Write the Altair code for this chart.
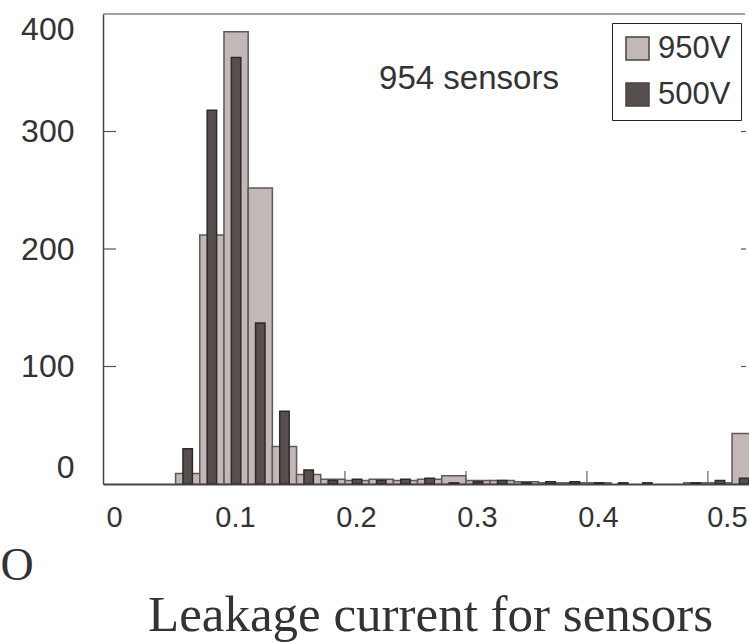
import altair as alt
import pandas as pd

# ---- data ----
bin_start = [0.06, 0.08, 0.10, 0.12, 0.14, 0.16, 0.18, 0.20, 0.22, 0.24, 0.26, 0.28,
             0.30, 0.32, 0.34, 0.36, 0.38, 0.40, 0.42, 0.44, 0.46, 0.48, 0.50, 0.52]
bin_width = 0.02
counts_950 = [9, 212, 385, 252, 32, 8, 4, 3, 4, 3, 4, 7,
              3, 3, 2, 1, 1, 1, 0, 0, 0, 1, 1, 43]
counts_500 = [30, 318, 363, 137, 62, 12, 3, 4, 3, 4, 5, 1,
              2, 3, 1, 2, 2, 1, 1, 1, 0, 1, 3, 5]
series_names = ["950V", "500V"]
x_ticks = [0, 0.1, 0.2, 0.3, 0.4, 0.5]
y_ticks = [0, 100, 200, 300, 400]
inner_y_ticks = [100, 200, 300]
inner_x_ticks = [0.1, 0.2, 0.3, 0.4, 0.5]
note_text = ["954 sensors"]
x_title = "Leakage current for sensors"
stray_text = ["O"]

LIGHT = "#c2b9b7"
DARK = "#574f4d"
TEXT = "#333333"
SANS = "Liberation Sans"
SERIF = "Liberation Serif"

rows = []
for s, vals in zip(series_names, [counts_950, counts_500]):
    for b, v in zip(bin_start, vals):
        if v > 0:
            rows.append({"series": s, "start": b, "end": b + bin_width, "count": v})
df = pd.DataFrame(rows)

xscale = alt.Scale(domain=[0, 0.534], nice=False, zero=False)
yscale = alt.Scale(domain=[0, 400], nice=False)
cscale = alt.Scale(domain=series_names, range=[LIGHT, DARK])

x_axis = alt.Axis(
    values=x_ticks, ticks=False, grid=False, domainColor="#444444", domainWidth=2,
    labelFont=SANS, labelFontSize=29, labelColor=TEXT, labelPadding=19,
    labelFlush=False, labelOffset=alt.ExprRef("datum.value > 0.45 ? 19 : 11"),
    labelExpr="datum.value == 0 ? '0' : format(datum.value, '.1f')",
    title=x_title, titleFont=SERIF, titleFontSize=51, titleFontWeight="normal",
    titleColor=TEXT, titleX=327, titleY=146, titleBaseline="alphabetic",
    titleAlign="center")
y_axis = alt.Axis(
    values=y_ticks, ticks=False, grid=False, domainColor="#444444", domainWidth=1.5,
    labelFont=SANS, labelFontSize=32, labelColor=TEXT, labelPadding=29,
    labelFlush=True, title=None)

legend = alt.Legend(
    title=None, orient="none", legendX=509, legendY=9,
    symbolType="square", symbolSize=529, symbolStrokeColor="#4a4341",
    symbolStrokeWidth=1.5, labelFont=SANS, labelFontSize=31, labelColor=TEXT,
    labelOffset=5, strokeColor="#222222", fillColor="white", padding=10,
    rowPadding=14,
)

base = alt.Chart(df)

light = base.transform_filter(alt.datum.series == "950V").mark_bar(
    clip=True, stroke="#5f5856", strokeWidth=1.5
).encode(
    x=alt.X("start:Q", scale=xscale, axis=x_axis),
    x2="end:Q",
    y=alt.Y("count:Q", scale=yscale, axis=y_axis),
    y2=alt.datum(0),
    color=alt.Color("series:N", scale=cscale, legend=legend),
)

dark = base.transform_filter(alt.datum.series == "500V").transform_calculate(
    lo="datum.start + 0.0061", hi="datum.start + 0.0139"
).mark_bar(clip=True, stroke="#2f2a29", strokeWidth=1.5).encode(
    x=alt.X("lo:Q", scale=xscale, axis=x_axis),
    x2="hi:Q",
    y=alt.Y("count:Q", scale=yscale, axis=y_axis),
    y2=alt.datum(0),
    color=alt.Color("series:N", scale=cscale, legend=legend),
)

ytick_df = pd.DataFrame({"v": inner_y_ticks})
left_ticks = alt.Chart(ytick_df).mark_rule(color="#555555", strokeWidth=1.2).encode(
    y=alt.Y("v:Q", scale=yscale, axis=y_axis), x=alt.value(0), x2=alt.value(13))
right_ticks = alt.Chart(ytick_df).mark_rule(color="#555555", strokeWidth=1.2).encode(
    y=alt.Y("v:Q", scale=yscale, axis=y_axis), x=alt.value(638), x2=alt.value(643))

xtick_df = pd.DataFrame({"v": inner_x_ticks})
bottom_ticks = alt.Chart(xtick_df).mark_rule(color="#666666", strokeWidth=1.2).encode(
    x=alt.X("v:Q", scale=xscale, axis=x_axis), y=alt.value(470), y2=alt.value(457))

top_line = alt.Chart(pd.DataFrame({"k": [0]})).mark_rule(
    color="#a8a09e", strokeWidth=2).encode(
    x=alt.value(0), x2=alt.value(642), y=alt.value(0))

note = alt.Chart(pd.DataFrame({"t": note_text})).mark_text(
    font=SANS, fontSize=33, color=TEXT, align="center", baseline="middle").encode(
    text="t:N", x=alt.value(366), y=alt.value(65))

stray = alt.Chart(pd.DataFrame({"t": stray_text})).mark_text(
    font=SERIF, fontSize=46, color=TEXT, align="center", baseline="alphabetic").encode(
    text="t:N", x=alt.value(-86), y=alt.value(566))

chart = alt.layer(
    light, dark, left_ticks, right_ticks, bottom_ticks, top_line, note, stray
).properties(
    width=646, height=470,
    autosize=alt.AutoSizeParams(type="none"),
    padding={"left": 103, "top": 14, "right": 0, "bottom": 158},
    background="white",
).configure_view(stroke=None)

chart.save("out.html", embed_options={"renderer": "svg", "actions": False})
